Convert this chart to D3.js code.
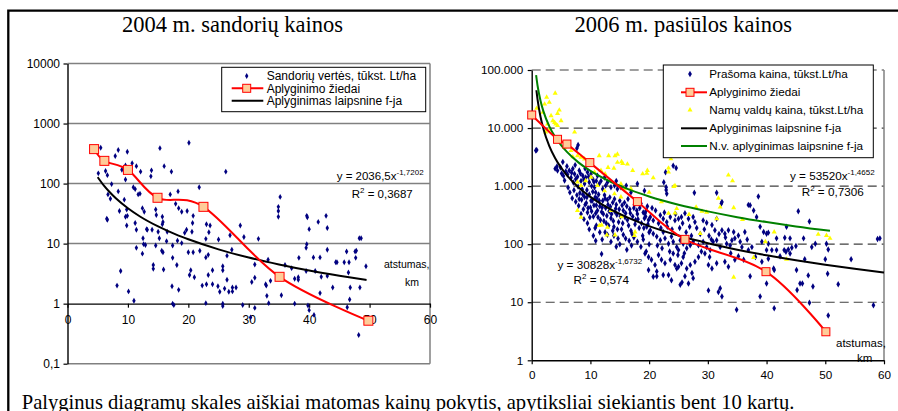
<!DOCTYPE html>
<html>
<head>
<meta charset="utf-8">
<script src="https://cdn.jsdelivr.net/npm/d3@7"></script>
<style>
  body { margin: 0; background: #fff; }
  text { font-family: "Liberation Sans", Arial, sans-serif; }
</style>
</head>
<body>
<script>
// ---- data ----
const xTicks = [0, 10, 20, 30, 40, 50, 60];
const leftTicks = [0.1, 1, 10, 100, 1000, 10000];
const leftTickText = ['0,1', '1', '10', '100', '1000', '10000'];
const rightTicks = [1, 10, 100, 1000, 10000, 100000];
const rightTickText = ['1', '10', '100', '1.000', '10.000', '100.000'];

// 2004 deals: [distance km, price thous. Lt/ha]
const deals04 = [[5.5,395],[20.1,479],[15.3,389],[8.4,363],[9.9,339],[7.9,288],[16.0,195],[10.7,219],[11.4,195],[12.1,158],[9.6,200],[9.0,170],[6.3,162],[5.1,148],[6.6,138],[13.9,166],[13.8,132],[17.2,158],[26.2,158],[9.6,117],[7.3,98],[10.9,87],[11.2,81],[11.7,66],[12.0,68],[21.8,87],[17.0,66],[18.3,74],[6.7,66],[7.1,56],[8.4,74],[9.4,54],[8.6,35],[9.8,37],[9.6,28],[9.9,29],[9.8,20],[6.6,25],[12.4,39],[12.7,34],[14.6,37],[14.7,30],[15.7,28],[15.8,23],[15.7,21],[17.9,46],[18.4,39],[18.9,34],[19.8,35],[20.8,29],[20.7,22],[23.0,21],[23.6,20],[23.4,15.5],[11.2,22],[11.4,17],[13.1,17.4],[13.2,17],[14.0,17],[15.0,15.8],[15.2,12.3],[16.5,15.8],[19.7,17],[19.4,15.1],[20.6,15.8],[12.5,12.3],[12.9,9.5],[12.6,9.8],[16.4,11],[18.2,11.2],[17.4,9.3],[18.9,10.2],[22.9,12],[25.0,11.7],[26.9,13.8],[29.2,12.9],[28.6,20],[31.6,12],[11.4,8.5],[12.4,6.8],[14.6,9.3],[15.6,7.6],[15.8,7.2],[20.0,7.2],[20.8,7.2],[21.9,7.6],[22.9,5.9],[23.3,6.5],[26.4,6.3],[27.2,7.9],[17.4,5.8],[18.1,4.4],[14.2,4.4],[14.2,3.8],[15.9,3.7],[8.8,3.5],[20.4,3.6],[20.2,3.0],[21.0,2.75],[24.0,3.6],[25.7,4.2],[25.7,3.6],[23.3,3.0],[26.4,2.5],[22.3,2.0],[23.0,2.1],[24.0,2.1],[24.9,1.95],[25.2,1.58],[26.0,1.78],[26.7,1.58],[27.3,1.86],[27.3,1.6],[27.9,1.86],[30.5,2.3],[31.0,2.7],[8.2,2.0],[10.1,1.6],[11.0,1.12],[17.3,1.95],[18.4,1.7],[17.4,1.0],[17.6,0.95],[22.9,1.02],[25.7,1.0],[25.7,0.91],[29.0,0.95],[30.3,0.59],[31.0,0.85],[6.5,26],
  [35.2,60],[34.9,41],[34.9,35],[34.9,28],[39.6,29],[39.7,27.5],[42.8,29],[41.5,23],[40.0,17.4],[43.0,18.2],[48.3,12.3],[48.6,12.3],[39.6,9.8],[39.5,8.5],[43.0,7.9],[46.2,7.4],[47.6,7.4],[47.8,7.6],[33.2,5.4],[38.3,5.8],[40.7,5.9],[41.8,5.9],[44.4,4.9],[44.6,4.9],[45.8,4.9],[46.6,4.9],[47.7,5.8],[49.4,4.2],[31.0,4.5],[36.0,4.4],[37.1,3.9],[39.5,3.5],[41.0,3.5],[42.0,2.8],[43.0,2.9],[46.5,3.3],[38.2,2.75],[38.2,2.5],[32.8,2.1],[32.9,2.0],[33.6,2.4],[37.6,2.6],[43.9,1.86],[46.8,1.86],[48.4,1.86],[33.0,1.35],[35.4,1.38],[41.8,1.5],[46.7,1.17],[33.3,1.02],[37.6,1.0],[39.8,0.93],[40.0,0.78],[46.3,0.87],[40.8,0.65],[48.2,0.30]];

const ringsX04 = [4.4, 6.1, 10.0, 14.9, 22.5, 35.1, 49.8];
const ringsV04 = [375, 239, 169, 58, 41, 2.8, 0.52];
const fitX04 = [5, 6, 7, 8, 10, 12, 15, 18, 20, 25, 30, 35, 40, 45, 49.5];
const fitV04 = [127.8, 93.4, 71.6, 56.9, 38.8, 28.3, 19.3, 14.1, 11.8, 8.02, 5.86, 4.50, 3.57, 2.92, 2.48];

// 2006 asking prices
const asking06 = [[0.7,4100],[0.85,4200],[4.3,2180],[7.9,5100],[7.7,4500],[4.0,2000],[4.4,1850],[4.9,2100],[5.1,1650],[5.4,1500],[5.8,1780],[6.1,1580],[6.4,1860],[6.7,1400],[7.0,1990],[7.3,1620],[7.5,1320],[7.8,1450],[8.1,1860],[8.4,1230],[8.7,1510],[9.0,1100],[9.2,1410],[9.5,1740],[9.8,1170],[10.1,1620],[10.4,1320],[10.7,955],[11.0,1230],[11.2,1510],[11.5,1100],[11.8,1230],[12.1,890],[12.4,1410],[12.6,1020],[12.9,1170],[13.5,955],[14.1,1020],[14.4,1230],[14.6,890],[15.2,955],[16.1,1020],[16.9,780],[18.0,1100],[19.2,830],
  [6.5,780],[6.9,620],[7.2,850],[7.5,540],[7.7,700],[8.0,460],[8.2,760],[8.5,580],[8.8,400],[9.0,650],[9.3,510],[9.5,350],[9.8,720],[10.0,430],[10.3,560],[10.5,300],[10.8,640],[11.0,470],[11.2,380],[11.5,560],[11.7,260],[12.0,430],[12.2,330],[12.5,610],[12.7,230],[13.0,480],[13.2,370],[13.5,280],[13.8,520],[14.0,200],[14.3,410],[14.5,320],[14.8,240],[15.0,560],[15.3,180],[15.6,380],[15.9,290],[16.2,450],[16.5,210],[16.8,340],[17.1,150],[17.4,420],[17.7,260],[18.0,330],[18.3,190],[18.6,500],[18.9,140],[19.2,280],[19.5,380],[19.8,220],[20.0,160],
  [9.8,180],[10.5,140],[11.0,210],[12.0,120],[12.5,160],[13.5,110],[14.0,140],[15.0,100],[16.0,125],[17.0,95],[18.0,110],[19.5,75],[20.0,100],[11.9,68],[10.9,115],[20.7,27.5],[21.3,34],[31.8,15],
  [5.3,2600],[5.6,1250],[6.0,2200],[6.2,950],[6.8,1700],[7.1,1150],[7.4,2300],[7.9,980],[8.3,1650],[8.6,880],[8.9,1300],[9.1,2000],[9.4,860],[9.7,1450],[10.2,1000],[10.6,1180],[10.9,780],
  [8.1,600],[8.4,330],[8.7,720],[8.9,270],[9.1,480],[9.4,640],[9.6,420],[9.9,290],[10.1,560],[10.2,370],[10.4,800],[10.6,470],[10.9,340],[11.1,620],[11.3,290],[11.4,720],[11.6,450],[11.9,360],[12.1,560],[12.3,250],[12.4,700],[12.6,420],[12.8,310],[12.9,580],[13.1,210],[13.3,640],[13.4,440],[13.6,330],[13.9,250],[14.1,600],[14.2,360],[14.4,480],[14.6,180],[14.9,400],[15.1,300],[15.4,470],[15.5,230],[15.8,520],[16.0,340],[16.3,260],[16.4,600],[16.7,400],[16.9,170],[17.2,300],[17.5,480],[17.6,220],[17.9,380],[18.1,270],[18.4,420],[18.7,230],[19.0,350],[19.1,190],[19.4,300],[19.7,450],[19.9,260],
  [9.5,230],[10.8,190],[11.6,160],[12.9,145],[13.8,170],[14.7,125],[15.6,145],[16.6,115],[17.4,130],[18.6,90],[19.0,120],[16.2,80],[14.4,90],
  [20.5,420],[21.1,380],[21.6,230],[22.0,190],[22.6,350],[23.1,200],[23.9,180],[24.5,330],[25.2,190],[25.7,230],[26.3,160],[26.9,200],[27.2,140],[28.1,190],[28.7,150],[29.4,180],[30.2,140],[30.6,120],[31.9,150],[33.0,130],[33.8,95],[35.5,110],[36.7,120],[21.4,95],[22.2,85],[23.5,75],[24.9,65],[26.0,70],[28.9,75],[30.3,60],[33.9,70],[35.2,62],
  [24.1,2250],[24.6,2050],[22.8,1740],[22.5,1170],[22.9,960],[23.0,740],[27.7,770],[31.5,770],[32.4,535],[32.3,500],[38.6,660],[22.9,860],[36.9,475],
  [19.3,340],[20.2,295],[20.7,257],[21.9,316],[22.4,275],[23.0,240],[23.6,295],[24.4,257],[25.0,275],[25.5,295],[26.1,340],[26.7,275],[27.5,295],[27.8,240],[29.2,257],[29.8,234],[30.7,214],[31.2,174],[31.5,275],[32.4,174],[32.9,151],[33.5,174],[34.4,162],[35.2,141],[36.3,162],[37.2,468],[37.8,380],[38.3,295],[38.9,200],[39.5,162],[40.0,151],[40.3,102],
  [19.6,200],[20.2,174],[20.7,151],[21.3,135],[21.9,117],[22.4,162],[22.7,126],[23.3,102],[23.8,135],[24.1,110],[24.7,89],[25.0,79],[25.3,117],[25.8,102],[26.4,85],[27.0,96],[27.5,110],[28.4,96],[29.2,110],[29.8,89],[30.4,79],[30.9,110],[31.5,117],[32.1,89],[33.2,102],[34.1,117],[34.6,126],[35.8,89],[36.9,79],[37.5,89],[39.2,110],[40.0,79],
  [19.3,69],[19.9,60],[20.4,54],[21.0,44],[21.6,65],[22.1,54],[22.7,47],[23.6,54],[24.1,69],[24.4,44],[25.0,41],[25.5,47],[25.8,60],[26.4,38],[27.0,44],[27.3,32],[27.8,50],[28.4,60],[29.5,69],[30.1,44],[30.7,38],[31.5,47],[32.9,50],[33.5,41],[34.6,54],[36.1,54],[37.2,28],[38.1,60],[39.2,50],
  [19.9,36],[21.3,28],[22.4,29.5],[23.3,29.5],[23.8,24],[24.7,38],[25.3,20],[25.6,22],[26.1,28],[26.7,21],[27.5,26],[30.1,16],[32.1,17.4],[32.4,12.6],[34.9,7.4],[38.9,12.6],
  [45.4,370],[47.3,245],[43.4,200],[40.3,158],[41.7,126],[43.1,129],[44.0,126],[46.3,126],[48.3,102],[47.7,89],[50.2,102],[50.5,81],[40.9,79],[41.7,79],[43.0,79],[43.3,74],[43.7,81],[44.3,87],[45.0,93],[44.0,69],[42.3,62],[40.3,56],[46.5,55],[50.0,55],[54.4,55],[59.3,126],[58.9,123],[41.2,38],[41.3,36],[45.1,36],[47.1,29],[45.7,21],[46.1,21],[47.9,18.6],[52.2,20.4],[45.2,16.2],[40.0,21],[47.3,9.8],[41.3,7.9],[58.2,8.9],[50.5,5.9],[50.4,31]];

// 2006 house-plot prices
const homes06 = [[0.85,21900],[4.0,39800],[2.55,34000],[2.2,25900],[3.0,27700],[4.7,20400],[4.4,17800],[1.9,18600],[3.3,16300],[3.6,13400],[3.9,12500],[4.1,11700],[4.4,11000],[5.0,13400],[2.7,11700],[3.0,9600],[2.4,8500],[7.3,8500],[5.6,4650],[6.7,4100],[7.0,3200],[7.8,3340],[8.4,3140],[9.0,2930],[9.8,2750],[11.5,3340],[13.1,3340],[14.2,3340],[14.6,2560],[15.5,2450],[16.3,2400],[13.0,2090],[14.0,2030],[11.8,1860],[12.5,1630],[10.7,1740],[10.1,1420],[9.2,1240],[8.4,1020],[7.8,1170],[11.2,1020],[15.2,1090],[15.8,900],[14.1,735],[16.9,900],[17.2,1860],[18.9,1630],[19.7,1860],[20.0,780],[12.9,195],[11.5,209],[17.5,141],[8.4,290],[7.8,380],[13.5,380],[15.2,650],[12.4,830],
  [14.6,3540],[15.3,2630],[23.3,2040],[33.5,1550],[34.2,1230],[24.2,980],
  [19.6,1660],[20.7,1390],[23.3,1740],[24.4,1020],[23.7,2950],[31.8,620],[34.4,425],[22.1,535],[23.3,340],[24.7,410],[24.4,345],[26.8,325],[28.0,435],[29.0,370],[29.8,355],[31.5,275],[35.9,265],[28.7,152],[37.8,59],[39.8,110],[34.4,27],
  [41.3,162],[48.8,148],[50.2,141],[50.8,126],[43.4,55],
  [17.6,515],[15.3,297],[11.9,214],[12.8,144],[14.2,144],[17.6,162],[32.1,435]];

const ringsX06 = [0, 4.4, 6.0, 9.9, 18.0, 26.1, 39.9, 50.1];
const ringsV06 = [16800, 6400, 5300, 2540, 540, 121, 33.6, 3.1];
const fitX06 = [0.8, 1, 1.5, 2, 3, 4, 5, 6, 8, 10, 13, 16, 20, 25, 30, 35, 40, 45, 50, 55, 60];
const fitV06 = [44800, 30828, 15640, 9667, 4905, 3031, 2087, 1538, 950, 654, 422, 298, 205, 141, 104, 80.4, 64.3, 52.8, 44.3, 37.8, 32.6];
const homesFitX = [0.75, 1, 1.5, 2, 3, 4, 5, 6, 8, 10, 13, 16, 20, 25, 30, 35, 40, 45, 50.8];
const homesFitV = [81500, 53520, 29550, 19380, 10700, 7020, 5060, 3880, 2540, 1830, 1250, 921, 664, 479, 367, 292, 240, 202, 170];

// ---- drawing ----
var svg = d3.select('body').append('svg')
  .attr('width', 898)
  .attr('height', 411)
  .style('display', 'block');

// outer frame (left + top)
svg.append('path')
  .attr('d', 'M8.3,411V10.7H898')
  .attr('fill', 'none')
  .attr('stroke', '#000')
  .attr('stroke-width', 2.3);

var diamond = d3.symbol().type(d3.symbolDiamond).size(10);
var diamondR = d3.symbol().type(d3.symbolDiamond).size(12);
var triangle = d3.symbol().type(d3.symbolTriangle).size(11);

function styleAxis(g, fs) {
  g.select('.domain').attr('stroke', '#000').attr('stroke-width', 1.4);
  g.selectAll('.tick line').attr('stroke', '#000').attr('stroke-width', 1.2);
  g.selectAll('.tick text')
    .attr('fill', '#000')
    .style('font-size', fs + 'px')
    .style('font-family', '"Liberation Sans", Arial, sans-serif');
}

// ================= LEFT: 2004 =================
var xL = d3.scaleLinear().domain([0, 60]).range([67.5, 430]);
var yL = d3.scaleLog().domain([0.1, 10000]).range([363.7, 63.5]);

svg.append('text')
  .attr('x', 232.5).attr('y', 32.3)
  .attr('text-anchor', 'middle')
  .style('font-family', '"Liberation Serif", "Times New Roman", serif')
  .style('font-size', '22.5px')
  .text('2004 m. sandorių kainos');

var gl = svg.append('g');

gl.selectAll('line.grid')
  .data(leftTicks.filter(d => d != 1))
  .enter()
  .append('line')
  .attr('x1', xL(0)).attr('x2', xL(60))
  .attr('y1', d => yL(d)).attr('y2', d => yL(d))
  .attr('stroke', '#808080')
  .attr('stroke-width', 1.5);

gl.append('line')
  .attr('x1', xL(60)).attr('x2', xL(60))
  .attr('y1', yL(10000)).attr('y2', yL(0.1))
  .attr('stroke', '#808080')
  .attr('stroke-width', 1.5);

gl.append('g')
  .attr('transform', `translate(${xL(0)},0)`)
  .call(d3.axisLeft(yL).tickValues(leftTicks).tickFormat((d, i) => leftTickText[i]).tickSize(4).tickSizeOuter(0).tickPadding(3.5))
  .call(g => styleAxis(g, 12));

gl.append('g')
  .attr('transform', `translate(0,${yL(1)})`)
  .call(d3.axisBottom(xL).tickValues(xTicks).tickSize(4).tickSizeOuter(0).tickPadding(7.5))
  .call(g => styleAxis(g, 12));

gl.append('text').attr('x', 384).attr('y', 267.5).style('font-size', '10.5px').text('atstumas,');
gl.append('text').attr('x', 405).attr('y', 286).style('font-size', '10.5px').text('km');

gl.selectAll('path.deal')
  .data(deals04)
  .enter()
  .append('path')
  .attr('d', diamond)
  .attr('transform', d => `translate(${xL(d[0])},${yL(d[1])})`)
  .attr('fill', '#000080');

gl.append('path')
  .datum(d3.zip(fitX04, fitV04))
  .attr('d', d3.line().x(d => xL(d[0])).y(d => yL(d[1])).curve(d3.curveMonotoneX))
  .attr('fill', 'none')
  .attr('stroke', '#000')
  .attr('stroke-width', 2);

gl.append('path')
  .datum(d3.zip(ringsX04, ringsV04))
  .attr('d', d3.line().x(d => xL(d[0])).y(d => yL(d[1])).curve(d3.curveCatmullRom.alpha(0)))
  .attr('fill', 'none')
  .attr('stroke', '#ff0000')
  .attr('stroke-width', 2);

gl.selectAll('rect.ring')
  .data(d3.zip(ringsX04, ringsV04))
  .enter()
  .append('rect')
  .attr('x', d => xL(d[0]) - 4.5)
  .attr('y', d => yL(d[1]) - 4.5)
  .attr('width', 9).attr('height', 9)
  .attr('fill', '#ffcc99')
  .attr('stroke', '#ff0000')
  .attr('stroke-width', 1);

var eqL = gl.append('text').attr('x', 336.7).attr('y', 179.5).style('font-size', '11.5px');
eqL.append('tspan').text('y = 2036,5x');
eqL.append('tspan').attr('dy', -5).style('font-size', '8px').text('-1,7202');
var r2L = gl.append('text').attr('x', 351.7).attr('y', 197.5).style('font-size', '11.5px');
r2L.append('tspan').text('R');
r2L.append('tspan').attr('dy', -5).style('font-size', '8px').text('2');
r2L.append('tspan').attr('dy', 5).text(' = 0,3687');

// legend
var legL = gl.append('g');
legL.append('rect')
  .attr('x', 221.7).attr('y', 67.3).attr('width', 204).attr('height', 44.4)
  .attr('fill', '#fff').attr('stroke', '#000').attr('stroke-width', 1);
var legLItems = ['Sandorių vertės, tūkst. Lt/ha', 'Aplyginimo žiedai', 'Aplyginimas laipsnine f-ja'];
var legLY = [76, 88.3, 100.7];
legL.append('path').attr('d', diamond).attr('transform', `translate(246.7,${legLY[0]})`).attr('fill', '#000080');
legL.append('line').attr('x1', 231.7).attr('x2', 263.3).attr('y1', legLY[1]).attr('y2', legLY[1]).attr('stroke', '#ff0000').attr('stroke-width', 2);
legL.append('rect').attr('x', 242.7).attr('y', legLY[1] - 4).attr('width', 8).attr('height', 8).attr('fill', '#ffcc99').attr('stroke', '#ff0000');
legL.append('line').attr('x1', 231.7).attr('x2', 263.3).attr('y1', legLY[2]).attr('y2', legLY[2]).attr('stroke', '#000').attr('stroke-width', 2);
legL.selectAll('text')
  .data(legLItems)
  .enter()
  .append('text')
  .attr('x', 266.7)
  .attr('y', (d, i) => legLY[i])
  .attr('dy', '0.35em')
  .style('font-size', '12px')
  .text(d => d);

// ================= RIGHT: 2006 =================
var xR = d3.scaleLinear().domain([0, 60]).range([531.7, 884]);
var yR = d3.scaleLog().domain([1, 100000]).range([360.3, 70]);

svg.append('text')
  .attr('x', 683.3).attr('y', 32.3)
  .attr('text-anchor', 'middle')
  .style('font-family', '"Liberation Serif", "Times New Roman", serif')
  .style('font-size', '22.5px')
  .text('2006 m. pasiūlos kainos');

var gr = svg.append('g');

gr.selectAll('line.grid')
  .data(rightTicks.filter(d => d != 1))
  .enter()
  .append('line')
  .attr('x1', xR(0)).attr('x2', xR(60))
  .attr('y1', d => yR(d)).attr('y2', d => yR(d))
  .attr('stroke', '#404040')
  .attr('stroke-width', 1.2)
  .attr('stroke-dasharray', '9,5');

gr.append('line')
  .attr('x1', xR(60)).attr('x2', xR(60))
  .attr('y1', yR(100000)).attr('y2', yR(1))
  .attr('stroke', '#808080')
  .attr('stroke-width', 1.5);

gr.append('text').attr('x', 836).attr('y', 346.5).style('font-size', '11.5px').text('atstumas,');
gr.append('text').attr('x', 857).attr('y', 361.7).style('font-size', '11.5px').text('km');

gr.append('g')
  .attr('transform', `translate(${xR(0)},0)`)
  .call(d3.axisLeft(yR).tickValues(rightTicks).tickFormat((d, i) => rightTickText[i]).tickSize(4).tickSizeOuter(0).tickPadding(4.4))
  .call(g => styleAxis(g, 11.7));

gr.append('g')
  .attr('transform', `translate(0,${yR(1)})`)
  .call(d3.axisBottom(xR).tickValues(xTicks).tickSize(4).tickSizeOuter(0).tickPadding(6.2))
  .call(g => styleAxis(g, 11.7));

gr.selectAll('path.ask')
  .data(asking06)
  .enter()
  .append('path')
  .attr('d', diamondR)
  .attr('transform', d => `translate(${xR(d[0])},${yR(d[1])})`)
  .attr('fill', '#000080');

gr.selectAll('path.home')
  .data(homes06)
  .enter()
  .append('path')
  .attr('d', triangle)
  .attr('transform', d => `translate(${xR(d[0])},${yR(d[1])})`)
  .attr('fill', '#ffff00');

gr.append('path')
  .datum(d3.zip(fitX06, fitV06))
  .attr('d', d3.line().x(d => xR(d[0])).y(d => yR(d[1])).curve(d3.curveMonotoneX))
  .attr('fill', 'none')
  .attr('stroke', '#000')
  .attr('stroke-width', 2);

gr.append('path')
  .datum(d3.zip(homesFitX, homesFitV))
  .attr('d', d3.line().x(d => xR(d[0])).y(d => yR(d[1])).curve(d3.curveMonotoneX))
  .attr('fill', 'none')
  .attr('stroke', '#008000')
  .attr('stroke-width', 2);

gr.append('path')
  .datum(d3.zip(ringsX06, ringsV06))
  .attr('d', d3.line().x(d => xR(d[0])).y(d => yR(d[1])).curve(d3.curveCatmullRom.alpha(0)))
  .attr('fill', 'none')
  .attr('stroke', '#ff0000')
  .attr('stroke-width', 2);

gr.selectAll('rect.ring')
  .data(d3.zip(ringsX06, ringsV06))
  .enter()
  .append('rect')
  .attr('x', d => xR(d[0]) - 4)
  .attr('y', d => yR(d[1]) - 4)
  .attr('width', 8).attr('height', 8)
  .attr('fill', '#ffcc99')
  .attr('stroke', '#ff0000')
  .attr('stroke-width', 1);

var eqR1 = gr.append('text').attr('x', 790).attr('y', 180).style('font-size', '11.7px');
eqR1.append('tspan').text('y = 53520x');
eqR1.append('tspan').attr('dy', -5).style('font-size', '8px').text('-1,4652');
var r2R1 = gr.append('text').attr('x', 801.7).attr('y', 195.7).style('font-size', '11.7px');
r2R1.append('tspan').text('R');
r2R1.append('tspan').attr('dy', -5).style('font-size', '8px').text('2');
r2R1.append('tspan').attr('dy', 5).text(' = 0,7306');

var eqR2 = gr.append('text').attr('x', 557.5).attr('y', 269.3).style('font-size', '11.7px');
eqR2.append('tspan').text('y = 30828x');
eqR2.append('tspan').attr('dy', -5).style('font-size', '8px').text('-1,6732');
var r2R2 = gr.append('text').attr('x', 573.5).attr('y', 284.3).style('font-size', '11.7px');
r2R2.append('tspan').text('R');
r2R2.append('tspan').attr('dy', -5).style('font-size', '8px').text('2');
r2R2.append('tspan').attr('dy', 5).text(' = 0,574');

// legend
var legR = gr.append('g');
legR.append('rect')
  .attr('x', 663.3).attr('y', 65).attr('width', 210).attr('height', 92.7)
  .attr('fill', '#fff').attr('stroke', '#000').attr('stroke-width', 1);
var legRItems = ['Prašoma kaina, tūkst.Lt/ha', 'Aplyginimo žiedai', 'Namų valdų kaina, tūkst.Lt/ha', 'Aplyginimas laipsnine f-ja', 'N.v. aplyginimas laipsnine f-ja'];
var legRY = [74, 92.3, 110, 128.3, 146];
legR.append('path').attr('d', diamondR).attr('transform', `translate(690,${legRY[0]})`).attr('fill', '#000080');
legR.append('line').attr('x1', 681).attr('x2', 707).attr('y1', legRY[1]).attr('y2', legRY[1]).attr('stroke', '#ff0000').attr('stroke-width', 2);
legR.append('rect').attr('x', 686).attr('y', legRY[1] - 4).attr('width', 8).attr('height', 8).attr('fill', '#ffcc99').attr('stroke', '#ff0000');
legR.append('path').attr('d', triangle).attr('transform', `translate(690,${legRY[2]})`).attr('fill', '#ffff00');
legR.append('line').attr('x1', 681).attr('x2', 707).attr('y1', legRY[3]).attr('y2', legRY[3]).attr('stroke', '#000').attr('stroke-width', 2);
legR.append('line').attr('x1', 681).attr('x2', 707).attr('y1', legRY[4]).attr('y2', legRY[4]).attr('stroke', '#008000').attr('stroke-width', 2);
legR.selectAll('text')
  .data(legRItems)
  .enter()
  .append('text')
  .attr('x', 709.3)
  .attr('y', (d, i) => legRY[i])
  .attr('dy', '0.35em')
  .style('font-size', '11.7px')
  .text(d => d);

// caption
svg.append('text')
  .attr('x', 21.7).attr('y', 409)
  .style('font-family', '"Liberation Serif", "Times New Roman", serif')
  .style('font-size', '20.6px')
  .text('Palyginus diagramų skales aiškiai matomas kainų pokytis, apytiksliai siekiantis bent 10 kartų.');
</script>
</body>
</html>
